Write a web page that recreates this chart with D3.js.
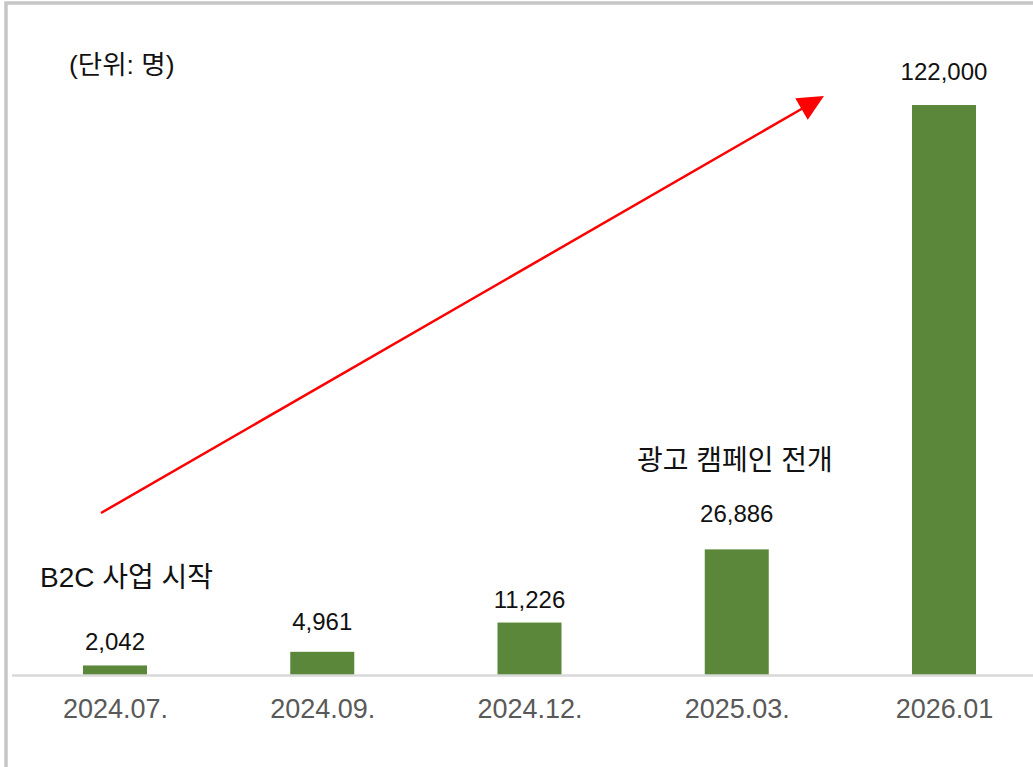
<!DOCTYPE html>
<html>
<head>
<meta charset="utf-8">
<script src="https://cdn.jsdelivr.net/npm/d3@7/dist/d3.min.js"></script>
<style>
  html, body { margin: 0; padding: 0; background: #ffffff; }
  svg { display: block; }
  text { font-family: "Liberation Sans", "Noto Sans CJK KR", sans-serif; }
</style>
</head>
<body>
<svg id="chart" width="1033" height="767"></svg>
<script>
const categories = ["2024.07.", "2024.09.", "2024.12.", "2025.03.", "2026.01"];
const values = [2042, 4961, 11226, 26886, 122000];
const valueLabels = ["2,042", "4,961", "11,226", "26,886", "122,000"];
const unitLabel = "(단위: 명)";
const noteStart = "B2C 사업 시작";
const noteCampaign = "광고 캠페인 전개";

// style: gap between bar top and value label baseline
const labelGap = [15, 22, 15, 27, 25];

const W = 1033, H = 767;
const baseY = 675, topY = 105;
const barW = 64;

const svg = d3.select("#chart");

// outer frame (partially visible)
svg.append("rect")
  .attr("x", 6).attr("y", 3)
  .attr("width", W + 20).attr("height", H + 20)
  .attr("fill", "none")
  .attr("stroke", "#c6c6c6")
  .attr("stroke-width", 3.5);

const x = d3.scalePoint().domain(categories).range([115, 944]);
const y = d3.scaleLinear().domain([0, d3.max(values)]).range([baseY, topY]);

// bars
svg.selectAll("rect.bar")
  .data(values)
  .join("rect")
  .attr("class", "bar")
  .attr("x", (d, i) => x(categories[i]) - barW / 2)
  .attr("y", d => y(d))
  .attr("width", barW)
  .attr("height", d => baseY - y(d))
  .attr("fill", "#5b873b");

// axis
const axis = d3.axisBottom(x).tickSize(0).tickPadding(30);
const gx = svg.append("g").attr("transform", `translate(0,${baseY})`).call(axis);
gx.select(".domain").remove();
gx.selectAll("text")
  .attr("font-size", 27)
  .attr("fill", "#595959")
  .attr("font-family", "'Liberation Sans', 'Noto Sans CJK KR', sans-serif")
  .attr("dy", 0)
  .attr("y", 43);
svg.append("line")
  .attr("x1", 12).attr("x2", W)
  .attr("y1", baseY + 0.5).attr("y2", baseY + 0.5)
  .attr("stroke", "#d9d9d9")
  .attr("stroke-width", 2.5);

// value labels
svg.selectAll("text.val")
  .data(values)
  .join("text")
  .attr("class", "val")
  .attr("x", (d, i) => x(categories[i]))
  .attr("y", (d, i) => y(d) - labelGap[i])
  .attr("text-anchor", "middle")
  .attr("font-size", 24)
  .attr("fill", "#111")
  .text((d, i) => valueLabels[i]);

// annotations
svg.append("text")
  .attr("x", 69).attr("y", 74)
  .attr("font-size", 26.5).attr("fill", "#111")
  .text(unitLabel);
svg.append("text")
  .attr("x", 40).attr("y", 587)
  .attr("font-size", 28).attr("fill", "#111")
  .text(noteStart);
svg.append("text")
  .attr("x", 637).attr("y", 470)
  .attr("font-size", 28).attr("fill", "#111")
  .text(noteCampaign);

// arrow
const a0 = [101, 513], a1 = [824, 96];
const dx = a1[0] - a0[0], dy = a1[1] - a0[1];
const len = Math.hypot(dx, dy);
const ux = dx / len, uy = dy / len;
const headL = 26, headHW = 12.5;
const bx = a1[0] - ux * headL, by = a1[1] - uy * headL;
svg.append("line")
  .attr("x1", a0[0]).attr("y1", a0[1])
  .attr("x2", bx + ux * 2).attr("y2", by + uy * 2)
  .attr("stroke", "#ff0000")
  .attr("stroke-width", 2.5);
svg.append("polygon")
  .attr("points", [
    a1,
    [bx - uy * headHW, by + ux * headHW],
    [bx + uy * headHW, by - ux * headHW]
  ].map(p => p.join(",")).join(" "))
  .attr("fill", "#ff0000");
</script>
</body>
</html>
